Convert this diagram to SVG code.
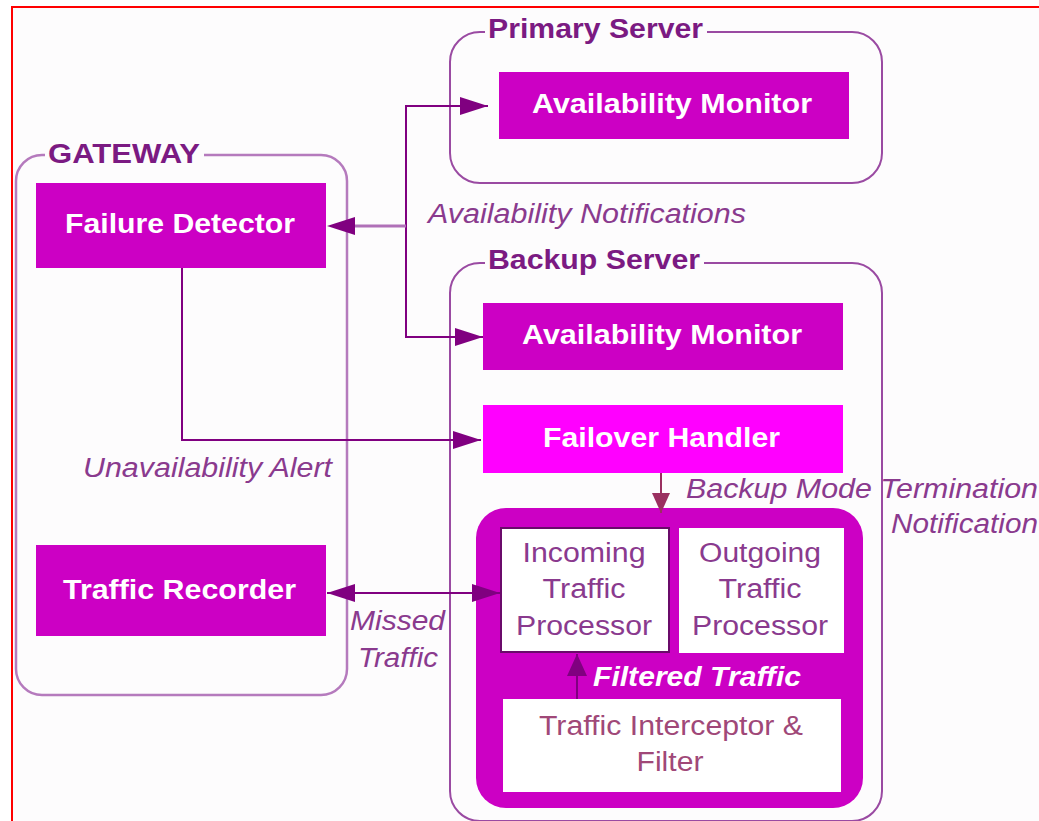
<svg xmlns="http://www.w3.org/2000/svg" width="1039" height="821" viewBox="0 0 1039 821">
<defs>
<style>
text{font-family:"Liberation Sans",Arial,sans-serif;}
.title{font-size:27px;font-weight:bold;fill:#7b1a82;}
.node{fill:#cc00c4;}
.ntext{font-size:27px;font-weight:bold;fill:#ffffff;}
.lbl{font-size:27px;font-style:italic;fill:#8a3a8e;}
.proc{font-size:27px;fill:#8a3a8e;text-anchor:middle;}
.cont{fill:none;stroke:#9a4aa2;stroke-width:2;}
.conn{fill:none;stroke:#800080;stroke-width:2;}
</style>
<marker id="ah" viewBox="0 0 28 18" refX="28" refY="9" markerWidth="28" markerHeight="18" markerUnits="userSpaceOnUse" orient="auto-start-reverse"><path d="M0,0 L28,9 L0,18 z" fill="#800080"/></marker>
<marker id="ahs" viewBox="0 0 22 20" refX="22" refY="10" markerWidth="22" markerHeight="20" markerUnits="userSpaceOnUse" orient="auto"><path d="M0,0 L22,10 L0,20 z" fill="#800080"/></marker>
<marker id="ahm" viewBox="0 0 20 18" refX="20" refY="9" markerWidth="20" markerHeight="18" markerUnits="userSpaceOnUse" orient="auto"><path d="M0,0 L20,9 L0,18 z" fill="#9a3060"/></marker>
</defs>
<rect x="0" y="0" width="1039" height="821" fill="#ffffff"/>
<rect x="12" y="7" width="1040" height="830" fill="#fdfcfd" stroke="#ff0000" stroke-width="2"/>

<g id="gateway">
<rect x="16" y="155" width="331" height="540" rx="26" fill="none" stroke="#b57abd" stroke-width="2.5"/>
<rect x="45" y="141" width="159" height="26" fill="#fdfcfd"/>
<text class="title" x="48" y="163" textLength="152" lengthAdjust="spacingAndGlyphs">GATEWAY</text>
</g>

<g id="primary-server">
<rect class="cont" x="450" y="32" width="432" height="151" rx="30"/>
<rect x="485" y="18" width="222" height="28" fill="#fdfcfd"/>
<text class="title" x="488" y="38" textLength="215" lengthAdjust="spacingAndGlyphs">Primary Server</text>
</g>

<g id="backup-server">
<rect class="cont" x="450" y="263" width="432" height="558" rx="30"/>
<rect x="485" y="249" width="219" height="28" fill="#fdfcfd"/>
<text class="title" x="488" y="269" textLength="212" lengthAdjust="spacingAndGlyphs">Backup Server</text>
</g>

<g id="primary-availability-monitor">
<rect class="node" x="499" y="72" width="350" height="67"/>
<text class="ntext" x="532" y="113" textLength="280" lengthAdjust="spacingAndGlyphs">Availability Monitor</text>
</g>

<g id="failure-detector">
<rect class="node" x="36" y="183" width="290" height="85"/>
<text class="ntext" x="65" y="233" textLength="230" lengthAdjust="spacingAndGlyphs">Failure Detector</text>
</g>

<g id="backup-availability-monitor">
<rect class="node" x="483" y="303" width="360" height="67"/>
<text class="ntext" x="522" y="344" textLength="280" lengthAdjust="spacingAndGlyphs">Availability Monitor</text>
</g>

<g id="failover-handler">
<rect x="483" y="405" width="360" height="68" fill="#ff00ff"/>
<text class="ntext" x="543" y="447" textLength="237" lengthAdjust="spacingAndGlyphs">Failover Handler</text>
</g>

<g id="traffic-recorder">
<rect class="node" x="36" y="545" width="290" height="91"/>
<text class="ntext" x="63" y="599" textLength="233" lengthAdjust="spacingAndGlyphs">Traffic Recorder</text>
</g>

<g id="traffic-module">
<rect x="476" y="508" width="387" height="300" rx="30" fill="#cc00c4"/>
<text x="593" y="686" textLength="208" lengthAdjust="spacingAndGlyphs" style="font-size:27px;font-weight:bold;font-style:italic;fill:#ffffff">Filtered Traffic</text>
</g>

<g id="incoming-traffic-processor">
<rect x="501" y="528" width="168" height="124" fill="#ffffff" stroke="#6a0a6a" stroke-width="2"/>
<text class="proc" x="584" y="562" textLength="123" lengthAdjust="spacingAndGlyphs">Incoming</text>
<text class="proc" x="584" y="598" textLength="83" lengthAdjust="spacingAndGlyphs">Traffic</text>
<text class="proc" x="584" y="635" textLength="136" lengthAdjust="spacingAndGlyphs">Processor</text>
</g>

<g id="outgoing-traffic-processor">
<rect x="679" y="528" width="165" height="125" fill="#ffffff"/>
<text class="proc" x="760" y="562" textLength="122" lengthAdjust="spacingAndGlyphs">Outgoing</text>
<text class="proc" x="760" y="598" textLength="83" lengthAdjust="spacingAndGlyphs">Traffic</text>
<text class="proc" x="760" y="635" textLength="136" lengthAdjust="spacingAndGlyphs">Processor</text>
</g>

<g id="traffic-interceptor-filter">
<rect x="503" y="699" width="338" height="93" fill="#ffffff"/>
<text class="proc" x="671" y="735" textLength="264" lengthAdjust="spacingAndGlyphs" style="fill:#a04878">Traffic Interceptor &amp;</text>
<text class="proc" x="670" y="771" textLength="67" lengthAdjust="spacingAndGlyphs" style="fill:#a04878">Filter</text>
</g>

<g id="connectors">
<path class="conn" d="M488,106 H406 V337 H483" marker-start="url(#ah)" marker-end="url(#ah)"/>
<path d="M406,226 H350" fill="none" stroke="#b070b8" stroke-width="3"/>
<path d="M355,217 L327,226 L355,235 z" fill="#800080"/>
<path class="conn" d="M182,268 V440 H481" marker-end="url(#ah)"/>
<path class="conn" d="M327,593 H500" marker-start="url(#ah)" marker-end="url(#ah)"/>
<path d="M661,473 V513" fill="none" stroke="#9a3060" stroke-width="2" marker-end="url(#ahm)"/>
<path class="conn" d="M577,699 V654" marker-end="url(#ahs)"/>
<text class="lbl" x="428" y="223" textLength="318" lengthAdjust="spacingAndGlyphs">Availability Notifications</text>
<text class="lbl" x="83" y="477" textLength="249" lengthAdjust="spacingAndGlyphs">Unavailability Alert</text>
<text class="lbl" x="686" y="498" textLength="352" lengthAdjust="spacingAndGlyphs">Backup Mode Termination</text>
<text class="lbl" x="891" y="533" textLength="147" lengthAdjust="spacingAndGlyphs">Notification</text>
<text class="lbl" x="350" y="630" textLength="95" lengthAdjust="spacingAndGlyphs">Missed</text>
<text class="lbl" x="358" y="667" textLength="80" lengthAdjust="spacingAndGlyphs">Traffic</text>
</g>
</svg>
